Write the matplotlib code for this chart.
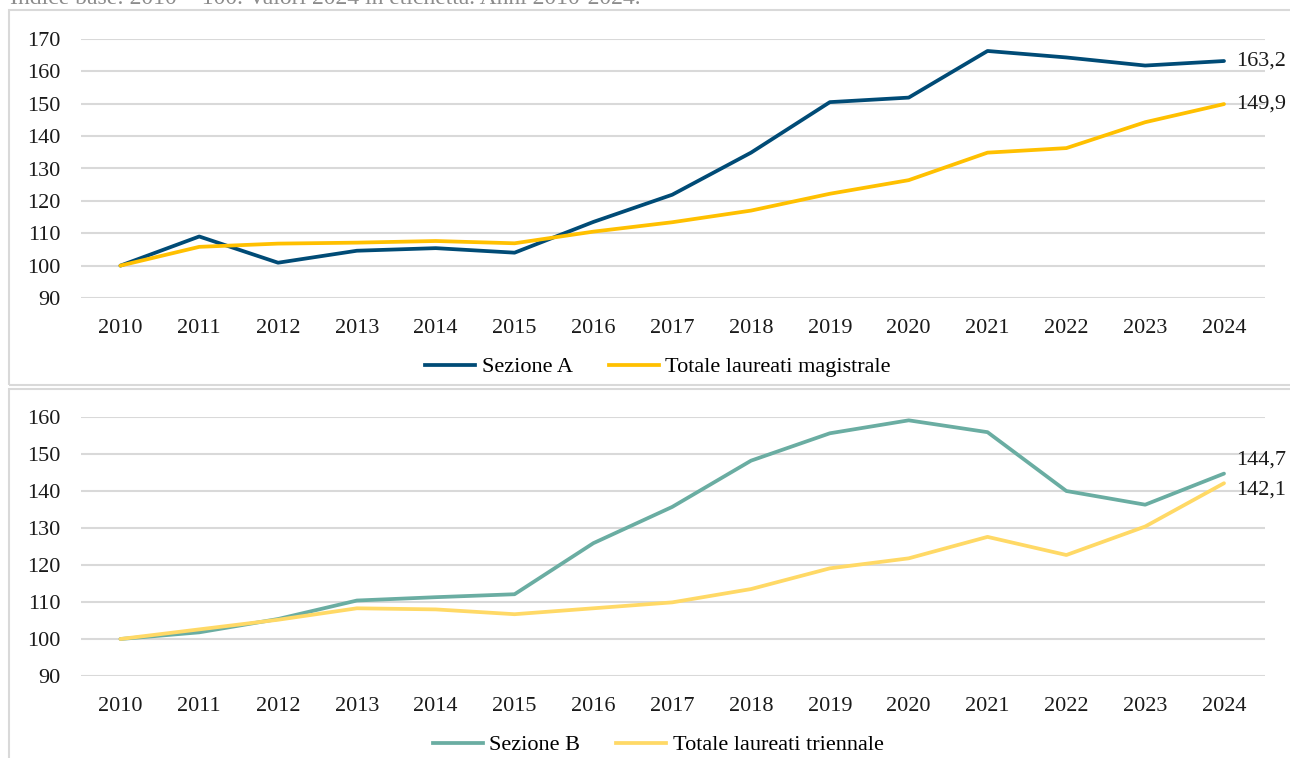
import matplotlib.pyplot as plt
from matplotlib.patches import Rectangle
from matplotlib.lines import Line2D

plt.rcParams['font.family'] = ['Liberation Serif', 'DejaVu Serif']

anni = list(range(2010, 2025))

# indice base 2010 = 100
sezione_a = [100, 109.0, 100.9, 104.6, 105.4, 104.0, 113.5, 121.9, 134.9, 150.5,
             151.9, 166.3, 164.3, 161.8, 163.2]
totale_magistrale = [100, 105.8, 106.8, 107.1, 107.6, 106.9, 110.5, 113.4, 117.0, 122.2,
                     126.4, 134.9, 136.3, 144.3, 149.9]
sezione_b = [100, 101.8, 105.4, 110.4, 111.3, 112.1, 125.9, 135.7, 148.2, 155.6,
             159.1, 155.9, 140.0, 136.3, 144.7]
totale_triennale = [100, 102.6, 105.2, 108.3, 108.0, 106.7, 108.3, 109.9, 113.5, 119.1,
                    121.8, 127.6, 122.7, 130.4, 142.1]

W, H = 1290, 758
fig = plt.figure(figsize=(W / 100, H / 100), dpi=100)

grigio = '#d9d9d9'
fs = 16

# cornici dei due pannelli
fig.patches.append(Rectangle((9 / W, 1 - 385 / H), 1.1, (385 - 10) / H, transform=fig.transFigure,
                             fill=False, edgecolor=grigio, lw=1.5))
fig.patches.append(Rectangle((9 / W, -0.1), 1.1, 0.1 + (758 - 389) / H, transform=fig.transFigure,
                             fill=False, edgecolor=grigio, lw=1.5))

# sottotitolo tagliato in alto
fig.text(10 / W, 1 - 4 / H, 'Indice base: 2010 = 100. Valori 2024 in etichetta. Anni 2010-2024.',
         fontsize=17, color='#8c8c8c', va='baseline', ha='left')


def pannello(rect, ylim, yticks, serie, colori, nomi, etichette, legend_y):
    ax = fig.add_axes(rect)
    for s, c, n in zip(serie, colori, nomi):
        ax.plot(anni, s, color=c, lw=2.7, label=n, solid_capstyle='round', zorder=3)
    ax.set_xlim(2009.5, 2024.52)
    ax.set_ylim(*ylim)
    ax.set_yticks(yticks)
    ax.set_xticks(anni)
    ax.grid(axis='y', color=grigio, lw=1.5)
    ax.set_axisbelow(True)
    for sp in ax.spines.values():
        sp.set_visible(False)
    ax.tick_params(length=0, labelsize=fs, colors='#1a1a1a')
    ax.tick_params(axis='y', pad=15)
    ax.tick_params(axis='x', pad=15)
    for s, (dy) in zip(serie, etichette):
        ax.annotate(f'{s[-1]:.1f}'.replace('.', ','), (anni[-1], s[-1]),
                    xytext=(9, dy), textcoords='offset points', fontsize=fs,
                    va='center', ha='left', color='#1a1a1a', annotation_clip=False)
    handles = [Line2D([], [], color=c, lw=2.7) for c in colori]
    fig.legend(handles, nomi, loc='center', bbox_to_anchor=(658 / W, 1 - legend_y / H),
               ncol=2, frameon=False, fontsize=fs, handlelength=2.25, handletextpad=0.3,
               columnspacing=1.6)
    return ax


pannello([81 / W, 1 - 298 / H, 1184 / W, 259 / H], (90, 170), range(90, 171, 10),
         [sezione_a, totale_magistrale], ['#004b76', '#ffc000'],
         ['Sezione A', 'Totale laureati magistrale'], [0, 0], 367)

pannello([81 / W, 1 - 676 / H, 1184 / W, 259 / H], (90, 160), range(90, 161, 10),
         [sezione_b, totale_triennale], ['#6aada2', '#ffd966'],
         ['Sezione B', 'Totale laureati triennale'], [10, -5], 745)

fig.savefig('out.png', dpi=100)
